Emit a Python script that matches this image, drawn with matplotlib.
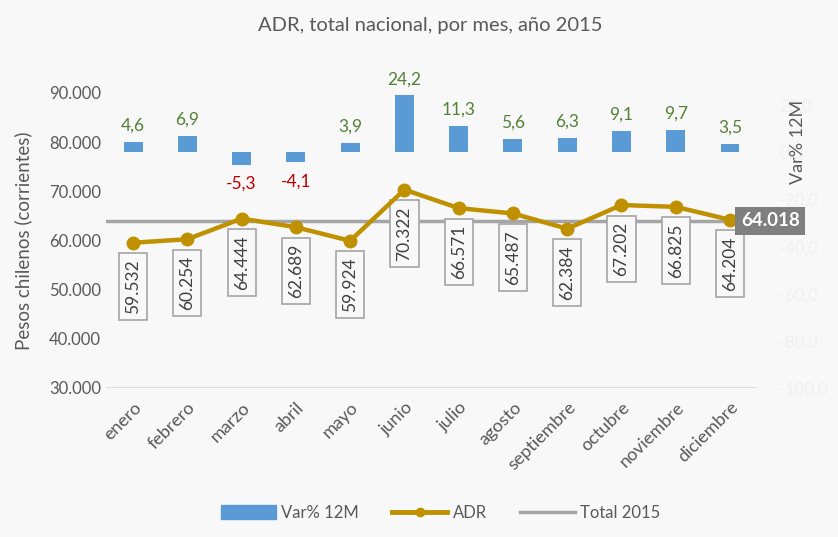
import matplotlib.pyplot as plt
import numpy as np
from matplotlib.patches import Patch
from matplotlib.lines import Line2D

plt.rcParams['font.family'] = ['Lato', 'DejaVu Sans']

# data
months = ['enero', 'febrero', 'marzo', 'abril', 'mayo', 'junio', 'julio',
          'agosto', 'septiembre', 'octubre', 'noviembre', 'diciembre']
adr = [59532, 60254, 64444, 62689, 59924, 70322, 66571, 65487, 62384, 67202, 66825, 64204]
var12m = [4.6, 6.9, -5.3, -4.1, 3.9, 24.2, 11.3, 5.6, 6.3, 9.1, 9.7, 3.5]
total_2015 = 64018

bg = '#f8f8f8'
txt = '#595959'
blue = '#5b9bd5'
gold = '#bf9000'
gray = '#a5a5a5'

fig = plt.figure(figsize=(8.38, 5.37), dpi=100, facecolor=bg)
ax = fig.add_axes([0.1265, 0.2775, 0.777, 0.5495])
ax2 = ax.twinx()
ax.set_zorder(ax2.get_zorder() + 1)
ax.patch.set_visible(False)
ax2.patch.set_visible(False)

x = np.arange(len(months))

# bars on the secondary axis
ax2.bar(x, var12m, width=0.35, color=blue, zorder=2)
for xi, v in zip(x, var12m):
    lbl = f'{v:.1f}'.replace('.', ',')
    if v >= 0:
        ax2.annotate(lbl, (xi, v), xytext=(0, 6), textcoords='offset points',
                     ha='center', va='bottom', color='#548235', fontsize=12.5)
    else:
        ax2.annotate(lbl, (xi, v), xytext=(0, -8), textcoords='offset points',
                     ha='center', va='top', color='#c00000', fontsize=12.5)
ax2.set_ylim(-100, 25.3)
rticks = np.arange(-100, 21, 20)
ax2.set_yticks(rticks)
ax2.set_yticklabels([f'{t:.1f}'.replace('.', ',') for t in rticks])
ax2.tick_params(axis='y', length=0, labelsize=12, labelcolor='#f0f0f0', pad=16)
fig.text(798 / 838, 1 - 142 / 537, 'Var% 12M', rotation=90, ha='center', va='center',
         color=txt, fontsize=13)

# total line and ADR line
ax.plot([-0.5, len(months) - 0.5], [total_2015, total_2015], color=gray, lw=2.5, zorder=2)
ax.plot(x, adr, color=gold, lw=3.2, marker='o', markersize=9, zorder=4)
for xi, v in zip(x, adr):
    ax.annotate(f'{v:,}'.replace(',', '.'), (xi, v), xytext=(0, -12),
                textcoords='offset points', ha='center', va='top', rotation=90,
                color='#404040', fontsize=12.5, zorder=3,
                bbox=dict(boxstyle='square,pad=0.35', fc=bg, ec=gray, lw=1.2))
ax.annotate(f'{total_2015:,}'.replace(',', '.'), (len(months) - 1, total_2015),
            xytext=(8, 0), textcoords='offset points', ha='left', va='center',
            color='white', fontsize=13.5, fontweight='bold', zorder=6,
            bbox=dict(boxstyle='square,pad=0.3', fc='#7f7f7f', ec='none'))

ax.set_xlim(-0.5, len(months) - 0.5)
ax.set_ylim(30000, 90000)
lticks = np.arange(30000, 90001, 10000)
ax.set_yticks(lticks)
ax.set_yticklabels([f'{t:,}'.replace(',', '.') for t in lticks])
ax.set_xticks(x)
ax.set_xticklabels(months, rotation=45, ha='right', rotation_mode='anchor')
ax.tick_params(axis='both', colors=txt, labelsize=12, length=0)
ax.tick_params(axis='x', labelsize=13, pad=8)
ax.set_ylabel('Pesos chilenos (corrientes)', color=txt, fontsize=13.5, labelpad=12)

for a in (ax, ax2):
    for s in a.spines.values():
        s.set_visible(False)
ax.axhline(30000, color='#d9d9d9', lw=1.2, zorder=1)

fig.text(0.513, 0.952, 'ADR, total nacional, por mes, año 2015', ha='center', va='center',
         color=txt, fontsize=14.5)

handles = [Patch(color=blue),
           Line2D([], [], color=gold, lw=3.5, marker='o', markersize=6),
           Line2D([], [], color=gray, lw=2.5)]
fig.legend(handles, ['Var% 12M', 'ADR', 'Total 2015'], loc='center',
           bbox_to_anchor=(0.526, 0.045), ncol=3, frameon=False, fontsize=12,
           labelcolor=txt, handlelength=3.3, handleheight=0.9, columnspacing=2.0,
           handletextpad=0.3)

fig.savefig('out.png', dpi=100, facecolor=bg)
